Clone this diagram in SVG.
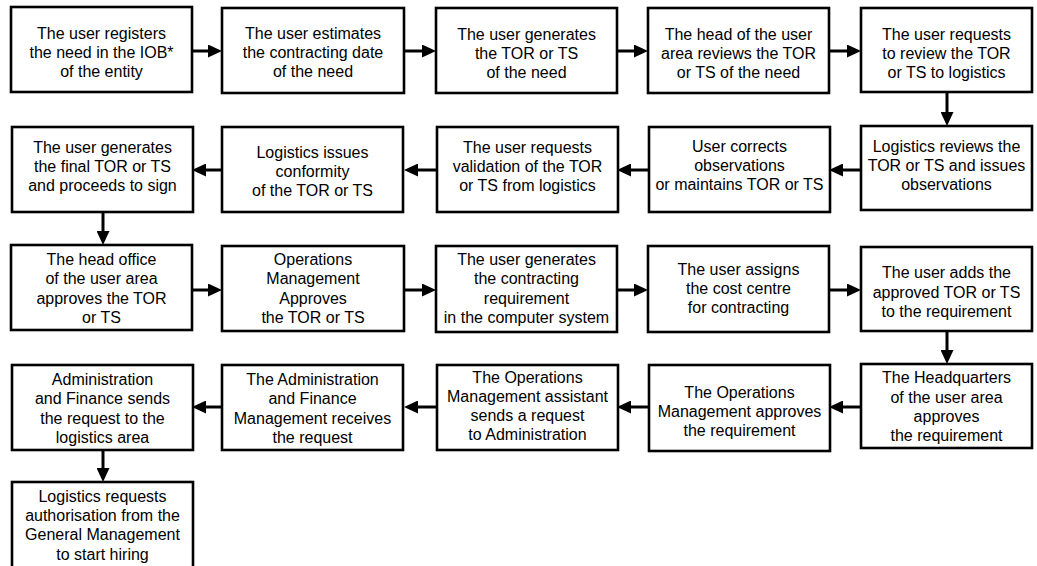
<svg xmlns="http://www.w3.org/2000/svg" width="1037" height="566" viewBox="0 0 1037 566">
<defs>
<style>
.box{fill:#fff;stroke:#000;stroke-width:2.6}
.t{font-family:"Liberation Sans",Arial,sans-serif;font-size:16px;fill:#000;text-anchor:middle}
.c{stroke:#000;stroke-width:3;fill:none}
</style>
<marker id="ah" markerWidth="14" markerHeight="13" refX="6" refY="6.5" orient="auto" markerUnits="userSpaceOnUse">
<path d="M0,0 L14,6.5 L0,13 z" fill="#000"/>
</marker>
</defs>
<rect width="1037" height="566" fill="#fff"/>
<g id="connectors">
<line class="c" x1="192" y1="51" x2="214" y2="51" marker-end="url(#ah)"/>
<line class="c" x1="404" y1="51" x2="428" y2="51" marker-end="url(#ah)"/>
<line class="c" x1="617" y1="51" x2="640" y2="51" marker-end="url(#ah)"/>
<line class="c" x1="829" y1="51" x2="853" y2="51" marker-end="url(#ah)"/>
<line class="c" x1="947" y1="92" x2="947" y2="118" marker-end="url(#ah)"/>
<line class="c" x1="861" y1="170" x2="837" y2="170" marker-end="url(#ah)"/>
<line class="c" x1="648" y1="170" x2="625" y2="170" marker-end="url(#ah)"/>
<line class="c" x1="436" y1="170" x2="412" y2="170" marker-end="url(#ah)"/>
<line class="c" x1="222" y1="170" x2="200" y2="170" marker-end="url(#ah)"/>
<line class="c" x1="103" y1="211" x2="103" y2="237" marker-end="url(#ah)"/>
<line class="c" x1="192" y1="290" x2="214" y2="290" marker-end="url(#ah)"/>
<line class="c" x1="404" y1="290" x2="428" y2="290" marker-end="url(#ah)"/>
<line class="c" x1="617" y1="290" x2="640" y2="290" marker-end="url(#ah)"/>
<line class="c" x1="829" y1="290" x2="853" y2="290" marker-end="url(#ah)"/>
<line class="c" x1="947" y1="331" x2="947" y2="356" marker-end="url(#ah)"/>
<line class="c" x1="861" y1="407" x2="837" y2="407" marker-end="url(#ah)"/>
<line class="c" x1="648" y1="407" x2="625" y2="407" marker-end="url(#ah)"/>
<line class="c" x1="436" y1="407" x2="412" y2="407" marker-end="url(#ah)"/>
<line class="c" x1="222" y1="407" x2="200" y2="407" marker-end="url(#ah)"/>
<line class="c" x1="103" y1="450" x2="103" y2="474" marker-end="url(#ah)"/>
</g>
<g id="n1"><rect class="box" x="11" y="7" width="181" height="85"/>
<text class="t"><tspan x="101.5" y="39">The user registers</tspan><tspan x="101.5" y="58">the need in the IOB*</tspan><tspan x="101.5" y="77">of the entity</tspan></text></g>
<g id="n2"><rect class="box" x="222" y="8" width="182" height="85"/>
<text class="t"><tspan x="313" y="39">The user estimates</tspan><tspan x="313" y="58">the contracting date</tspan><tspan x="313" y="77">of the need</tspan></text></g>
<g id="n3"><rect class="box" x="436" y="8" width="181" height="85"/>
<text class="t"><tspan x="526.5" y="40">The user generates</tspan><tspan x="526.5" y="59">the TOR or TS</tspan><tspan x="526.5" y="78">of the need</tspan></text></g>
<g id="n4"><rect class="box" x="648" y="8" width="181" height="85"/>
<text class="t"><tspan x="738.5" y="40">The head of the user</tspan><tspan x="738.5" y="59">area reviews the TOR</tspan><tspan x="738.5" y="78">or TS of the need</tspan></text></g>
<g id="n5"><rect class="box" x="861" y="8" width="171" height="84"/>
<text class="t"><tspan x="946.5" y="40">The user requests</tspan><tspan x="946.5" y="59">to review the TOR</tspan><tspan x="946.5" y="78">or TS to logistics</tspan></text></g>
<g id="n6"><rect class="box" x="861" y="126" width="171" height="84"/>
<text class="t"><tspan x="946.5" y="152">Logistics reviews the</tspan><tspan x="946.5" y="171">TOR or TS and issues</tspan><tspan x="946.5" y="190">observations</tspan></text></g>
<g id="n7"><rect class="box" x="649" y="127" width="181" height="85"/>
<text class="t"><tspan x="739.5" y="152">User corrects</tspan><tspan x="739.5" y="171">observations</tspan><tspan x="739.5" y="190">or maintains TOR or TS</tspan></text></g>
<g id="n8"><rect class="box" x="437" y="127" width="181" height="85"/>
<text class="t"><tspan x="527.5" y="152.5">The user requests</tspan><tspan x="527.5" y="171.5">validation of the TOR</tspan><tspan x="527.5" y="190.5">or TS from logistics</tspan></text></g>
<g id="n9"><rect class="box" x="222" y="127" width="181" height="85"/>
<text class="t"><tspan x="312.5" y="158">Logistics issues</tspan><tspan x="312.5" y="177">conformity</tspan><tspan x="312.5" y="196">of the TOR or TS</tspan></text></g>
<g id="n10"><rect class="box" x="12" y="127" width="181" height="85"/>
<text class="t"><tspan x="102.5" y="152.5">The user generates</tspan><tspan x="102.5" y="171.5">the final TOR or TS</tspan><tspan x="102.5" y="191">and proceeds to sign</tspan></text></g>
<g id="n11"><rect class="box" x="11" y="245" width="181" height="85"/>
<text class="t"><tspan x="101.5" y="265">The head office</tspan><tspan x="101.5" y="284">of the user area</tspan><tspan x="101.5" y="304">approves the TOR</tspan><tspan x="101.5" y="323">or TS</tspan></text></g>
<g id="n12"><rect class="box" x="222" y="246" width="182" height="85"/>
<text class="t"><tspan x="313" y="265">Operations</tspan><tspan x="313" y="284">Management</tspan><tspan x="313" y="304">Approves</tspan><tspan x="313" y="323">the TOR or TS</tspan></text></g>
<g id="n13"><rect class="box" x="436" y="246" width="181" height="86"/>
<text class="t"><tspan x="526.5" y="265">The user generates</tspan><tspan x="526.5" y="284">the contracting</tspan><tspan x="526.5" y="304">requirement</tspan><tspan x="526.5" y="323">in the computer system</tspan></text></g>
<g id="n14"><rect class="box" x="648" y="246" width="181" height="86"/>
<text class="t"><tspan x="738.5" y="275">The user assigns</tspan><tspan x="738.5" y="294">the cost centre</tspan><tspan x="738.5" y="313">for contracting</tspan></text></g>
<g id="n15"><rect class="box" x="861" y="247" width="171" height="84"/>
<text class="t"><tspan x="946.5" y="278">The user adds the</tspan><tspan x="946.5" y="297.5">approved TOR or TS</tspan><tspan x="946.5" y="317">to the requirement</tspan></text></g>
<g id="n16"><rect class="box" x="861" y="364" width="171" height="84"/>
<text class="t"><tspan x="946.5" y="383">The Headquarters</tspan><tspan x="946.5" y="402.5">of the user area</tspan><tspan x="946.5" y="422">approves</tspan><tspan x="946.5" y="441">the requirement</tspan></text></g>
<g id="n17"><rect class="box" x="649" y="365" width="181" height="86"/>
<text class="t"><tspan x="739.5" y="398">The Operations</tspan><tspan x="739.5" y="417">Management approves</tspan><tspan x="739.5" y="436">the requirement</tspan></text></g>
<g id="n18"><rect class="box" x="437" y="365" width="181" height="85"/>
<text class="t"><tspan x="527.5" y="383">The Operations</tspan><tspan x="527.5" y="402">Management assistant</tspan><tspan x="527.5" y="421">sends a request</tspan><tspan x="527.5" y="440">to Administration</tspan></text></g>
<g id="n19"><rect class="box" x="222" y="365" width="181" height="85"/>
<text class="t"><tspan x="312.5" y="385">The Administration</tspan><tspan x="312.5" y="404">and Finance</tspan><tspan x="312.5" y="423.5">Management receives</tspan><tspan x="312.5" y="443">the request</tspan></text></g>
<g id="n20"><rect class="box" x="12" y="365" width="181" height="85"/>
<text class="t"><tspan x="102.5" y="385">Administration</tspan><tspan x="102.5" y="404">and Finance sends</tspan><tspan x="102.5" y="423.5">the request to the</tspan><tspan x="102.5" y="443">logistics area</tspan></text></g>
<g id="n21"><rect class="box" x="12" y="482" width="181" height="92"/>
<text class="t"><tspan x="102.5" y="502">Logistics requests</tspan><tspan x="102.5" y="521">authorisation from the</tspan><tspan x="102.5" y="540">General Management</tspan><tspan x="102.5" y="559.5">to start hiring</tspan></text></g>
</svg>
